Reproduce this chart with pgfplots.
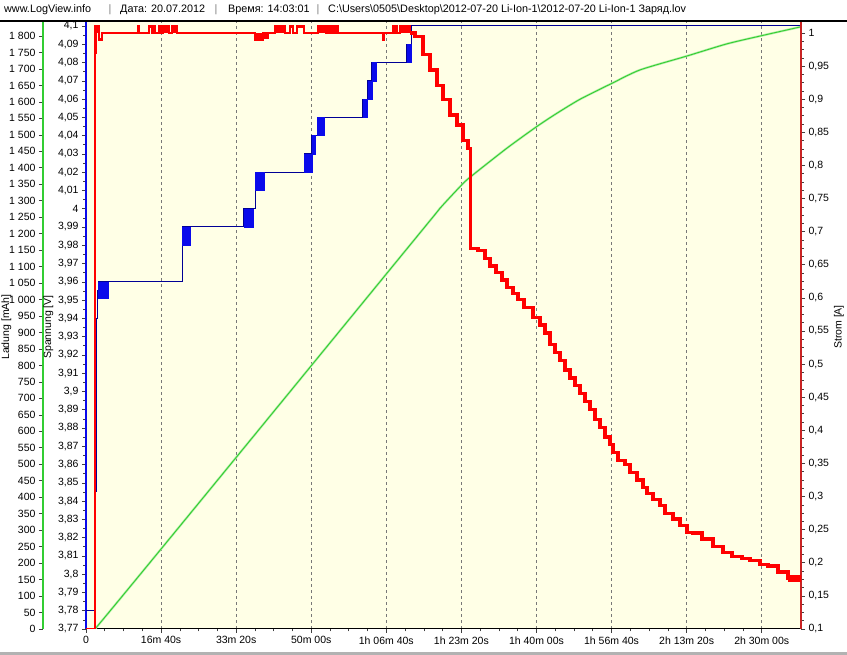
\documentclass[border=0pt]{standalone}
\usepackage{fontspec}
\setmainfont{Liberation Sans}
\usepackage{pgfplots}
\pgfplotsset{compat=1.18}
\definecolor{bgyellow}{RGB}{255,255,230}
\definecolor{lgreen}{RGB}{50,205,50}
\definecolor{lgreenglow}{RGB}{180,238,165}
\definecolor{axred}{RGB}{200,35,35}
\definecolor{navyline}{RGB}{0,0,150}
\definecolor{vblue}{RGB}{10,10,235}
\definecolor{gridgray}{RGB}{120,120,120}
\newcommand\lvfont{\fontsize{10.5}{12}\selectfont}
\pgfplotsset{
  lvbase/.style={
    scale only axis, width=715pt, height=607pt,
    at={(86pt,26pt)}, anchor=south west,
    xmin=0, xmax=9523,
    tick label style={font=\lvfont},
    /pgf/number format/assume math mode=true,
    axis line style={-},
    tick align=outside,
    major tick length=4pt, minor tick length=2.5pt,
    every tick/.style={black!75, line width=0.6pt},
  },
}
\begin{document}
\begin{tikzpicture}[x=1pt,y=1pt]
\useasboundingbox (0,0) rectangle (847,655);
\fill[white] (0,0) rectangle (847,655);
\fill[black!30] (0,0) rectangle (847,2.5);

% ---------- Spannung (main axis) ----------
\begin{axis}[lvbase,
  axis background/.style={fill=bgyellow},
  ymin=3.77, ymax=4.10219,
  axis x line*=bottom, axis y line*=left,
  x axis line style={black, line width=1pt},
  y axis line style={vblue, line width=2.5pt},
  xtick={0,1000,2000,3000,4000,5000,6000,7000,8000,9000},
  xticklabels={0,16m 40s,33m 20s,50m 00s,1h 06m 40s,1h 23m 20s,1h 40m 00s,1h 56m 40s,2h 13m 20s,2h 30m 00s},
  minor x tick num=3,
  xmajorgrids,
  major x grid style={gridgray, dash pattern=on 3pt off 3pt, line width=0.7pt},
  ytick={3.77,3.78,3.79,3.8,3.81,3.82,3.83,3.84,3.85,3.86,3.87,3.88,3.89,3.9,3.91,3.92,3.93,3.94,3.95,3.96,3.97,3.98,3.99,4,4.01,4.02,4.03,4.04,4.05,4.06,4.07,4.08,4.09,4.1},
  minor y tick num=1,
  yticklabel style={/pgf/number format/.cd, fixed, precision=2, use comma},
]
\addplot[const plot, navyline, line width=1pt, mark=none] coordinates {
(0,3.78) (130,3.845) (136,3.94) (152,3.955) (160,3.96) (1279,3.99) (2104,4.00)
(2251,4.02) (2904,4.03) (3010,4.04) (3077,4.05) (3689,4.06) (3750,4.07) (3809,4.08)
(4275,4.09) (4338,4.1) (9523,4.1)};
\addplot[fill=vblue, draw=vblue, line width=0.3pt] coordinates {(160,3.951) (280,3.951) (280,3.96) (160,3.96)} -- cycle;
\addplot[fill=vblue, draw=vblue, line width=0.3pt] coordinates {(289,3.951) (296,3.951) (296,3.96) (289,3.96)} -- cycle;
\addplot[fill=vblue, draw=vblue, line width=0.3pt] coordinates {(1279,3.98) (1385,3.98) (1385,3.99) (1279,3.99)} -- cycle;
\addplot[fill=vblue, draw=vblue, line width=0.3pt] coordinates {(2104,3.99) (2224,3.99) (2224,4.00) (2104,4.00)} -- cycle;
\addplot[fill=vblue, draw=vblue, line width=0.3pt] coordinates {(2251,4.01) (2371,4.01) (2371,4.02) (2251,4.02)} -- cycle;
\addplot[fill=vblue, draw=vblue, line width=0.3pt] coordinates {(2904,4.02) (3010,4.02) (3010,4.03) (2904,4.03)} -- cycle;
\addplot[fill=vblue, draw=vblue, line width=0.3pt] coordinates {(3010,4.03) (3050,4.03) (3050,4.04) (3010,4.04)} -- cycle;
\addplot[fill=vblue, draw=vblue, line width=0.3pt] coordinates {(3072,4.04) (3170,4.04) (3170,4.05) (3072,4.05)} -- cycle;
\addplot[fill=vblue, draw=vblue, line width=0.3pt] coordinates {(3685,4.05) (3738,4.05) (3738,4.06) (3685,4.06)} -- cycle;
\addplot[fill=vblue, draw=vblue, line width=0.3pt] coordinates {(3752,4.06) (3805,4.06) (3805,4.07) (3752,4.07)} -- cycle;
\addplot[fill=vblue, draw=vblue, line width=0.3pt] coordinates {(3805,4.07) (3863,4.07) (3863,4.08) (3805,4.08)} -- cycle;
\addplot[fill=vblue, draw=vblue, line width=0.3pt] coordinates {(4280,4.08) (4336,4.08) (4336,4.09) (4280,4.09)} -- cycle;
\end{axis}

% ---------- Ladung ----------
\begin{axis}[lvbase,
  ymin=0, ymax=1842.5,
  axis x line=none, axis y line*=left,
  y axis line style={lgreen, line width=2pt, xshift=-43pt},
  ytick={0,50,...,1800},
  ytick style={xshift=-43pt},
  scaled y ticks=false,
  yticklabel style={xshift=-43pt, /pgf/number format/.cd, fixed, precision=0, 1000 sep={\ }},
]
\addplot[lgreenglow, line width=2.2pt, smooth, tension=0.4] coordinates {
(0,0) (120,0) (4400,1189) (4715,1277) (5004,1348) (5124,1373) (5603,1459) (6003,1525)
(6269,1565) (6580,1608) (7002,1656) (7379,1697) (8001,1739) (8534,1776) (9000,1801) (9523,1828)};
\addplot[lgreen, line width=0.9pt, smooth, tension=0.4] coordinates {
(0,0) (120,0) (4400,1189) (4715,1277) (5004,1348) (5124,1373) (5603,1459) (6003,1525)
(6269,1565) (6580,1608) (7002,1656) (7379,1697) (8001,1739) (8534,1776) (9000,1801) (9523,1828)};
\end{axis}

% ---------- Strom ----------
\begin{axis}[lvbase,
  ymin=0.1, ymax=1.0166,
  axis x line=none, axis y line*=right,
  y axis line style={axred, line width=2.5pt},
  ytick={0.1,0.15,0.2,0.25,0.3,0.35,0.4,0.45,0.5,0.55,0.6,0.65,0.7,0.75,0.8,0.85,0.9,0.95,1},
  minor y tick num=3,
  yticklabel style={/pgf/number format/.cd, fixed, precision=2, use comma},
]
\addplot[const plot, red, line width=2.4pt, mark=none] coordinates {
(0,0.1) (120,0.97) (126,1.01) (173,0.99) (213,1.0) (693,1.01) (706,1.0) (839,1.01) (879,1.0)
(906,1.01) (919,1.0) (972,1.01) (999,1.0) (1026,1.01) (1105,1.0) (1145,1.01) (1212,1.0)
(2251,0.99) (2358,1.0) (2384,0.992) (2392,1.0) (2411,0.992) (2419,1.0) (2517,1.01) (2651,1.0)
(2717,1.01) (2757,1.0) (2810,1.01) (2904,1.0) (3090,1.01) (3200,1.0) (3225,1.01) (3235,1.0)
(3255,1.01) (3265,1.0) (3285,1.01) (3295,1.0) (3315,1.01) (3325,1.0) (3340,1.01) (3356,1.0)
(3956,0.99) (3968,1.0) (4089,1.01) (4102,1.0) (4130,1.01) (4143,1.0) (4182,1.01) (4315,1.0)};
\addplot[const plot, red, line width=3.2pt, mark=none] coordinates {
(4315,1.0)
(4382,0.995) (4489,0.967) (4582,0.944) (4675,0.921) (4755,0.899) (4848,0.876) (4941,0.861)
(5021,0.838) (5088,0.826) (5121,0.675) (5221,0.672) (5314,0.659) (5381,0.648) (5461,0.638)
(5541,0.627) (5607,0.616) (5687,0.607) (5754,0.597) (5834,0.586) (5954,0.570) (6047,0.559)
(6113,0.547) (6180,0.529) (6247,0.518) (6313,0.506) (6380,0.491) (6446,0.479) (6513,0.468)
(6580,0.456) (6646,0.443) (6713,0.431) (6780,0.416) (6846,0.404) (6913,0.390) (6979,0.378)
(7019,0.367) (7086,0.355) (7179,0.348) (7246,0.336) (7339,0.325) (7419,0.314) (7472,0.305)
(7552,0.296) (7645,0.286) (7712,0.275) (7818,0.266) (7912,0.256) (8005,0.246) (8085,0.245)
(8205,0.236) (8351,0.225) (8484,0.216) (8604,0.209) (8737,0.206) (8844,0.204) (8977,0.197)
(9084,0.195) (9217,0.186) (9350,0.177) (9523,0.175)};
\addplot[fill=red, draw=none] coordinates {(126,1.0) (173,1.0) (173,1.01) (126,1.01)} -- cycle;
\addplot[fill=red, draw=none] coordinates {(1026,1.0) (1105,1.0) (1105,1.01) (1026,1.01)} -- cycle;
\addplot[fill=red, draw=none] coordinates {(1145,1.0) (1212,1.0) (1212,1.01) (1145,1.01)} -- cycle;
\addplot[fill=red, draw=none] coordinates {(2517,1.0) (2651,1.0) (2651,1.01) (2517,1.01)} -- cycle;
\addplot[fill=red, draw=none] coordinates {(3090,1.0) (3200,1.0) (3200,1.01) (3090,1.01)} -- cycle;
\addplot[fill=red, draw=none] coordinates {(4182,1.0) (4315,1.0) (4315,1.01) (4182,1.01)} -- cycle;
\addplot[fill=red, draw=none] coordinates {(2251,0.99) (2358,0.99) (2358,1.0) (2251,1.0)} -- cycle;
\addplot[fill=red, draw=none] coordinates {(9350,0.171) (9523,0.171) (9523,0.181) (9350,0.181)} -- cycle;
\end{axis}

% axis titles
\node[rotate=90, font=\lvfont, inner sep=0] at (6.5,328) {Ladung [mAh]};
\node[rotate=90, font=\lvfont, inner sep=0] at (48.5,328) {Spannung [V]};
\node[rotate=90, font=\lvfont, inner sep=0] at (839,328) {Strom [A]};

% title bar
\draw[black, line width=1.3pt] (0,634) -- (847,634);
\begin{scope}[font=\fontsize{10.8}{12}\selectfont]
\node[anchor=base west, inner sep=0] at (4,642) {www.LogView.info};
\node[anchor=base, inner sep=0, gray] at (110,642) {|};
\node[anchor=base west, inner sep=0] at (120,642) {Дата: 20.07.2012};
\node[anchor=base, inner sep=0, gray] at (216,642) {|};
\node[anchor=base west, inner sep=0] at (228,642) {Время: 14:03:01};
\node[anchor=base, inner sep=0, gray] at (318,642) {|};
\node[anchor=base west, inner sep=0] at (328,642) {C:\textbackslash Users\textbackslash 0505\textbackslash Desktop\textbackslash 2012-07-20 Li-Ion-1\textbackslash 2012-07-20 Li-Ion-1 Заряд.lov};
\end{scope}
\end{tikzpicture}
\end{document}
